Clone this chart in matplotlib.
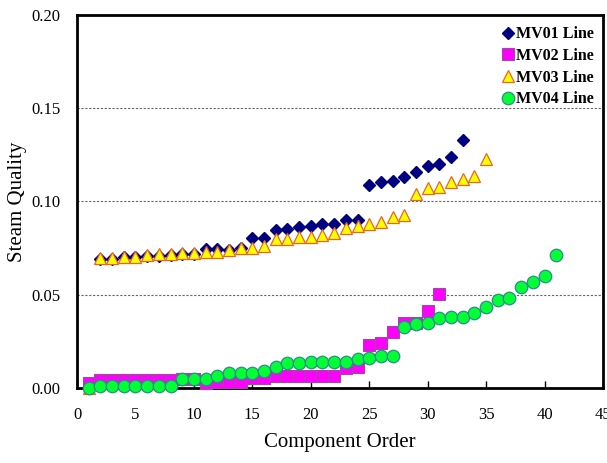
import matplotlib
matplotlib.use("Agg")
import matplotlib.pyplot as plt

plt.rcParams['font.family'] = ['Liberation Serif', 'DejaVu Serif']

x_mv01 = list(range(2, 34))
mv01 = [0.069, 0.069, 0.070, 0.070, 0.0708, 0.071, 0.0715, 0.072, 0.072,
        0.0745, 0.0745, 0.074, 0.075, 0.0806, 0.0806, 0.0845, 0.0853, 0.0865,
        0.0869, 0.0879, 0.0879, 0.090, 0.090, 0.1088, 0.1103, 0.111, 0.113,
        0.116, 0.119, 0.120, 0.124, 0.133]

x_mv02 = list(range(1, 32))
mv02 = [0.0028, 0.0045, 0.0045, 0.0045, 0.0045, 0.0045, 0.0045, 0.0045,
        0.0050, 0.0050, 0.0028, 0.0034, 0.0034, 0.0034, 0.0052, 0.0052,
        0.0064, 0.0064, 0.0064, 0.0064, 0.0064, 0.0064, 0.0105, 0.0114,
        0.023, 0.0243, 0.0302, 0.0347, 0.035, 0.0413, 0.0502]

x_mv03 = [1] + list(range(2, 36))
mv03 = [0.0, 0.0699, 0.0699, 0.0704, 0.0704, 0.0713, 0.0718, 0.0718, 0.0722,
        0.0722, 0.0731, 0.0731, 0.074, 0.0749, 0.0749, 0.076, 0.0800, 0.0800,
        0.0808, 0.0808, 0.082, 0.0829, 0.086, 0.0869, 0.0879, 0.0892, 0.0919,
        0.0928, 0.104, 0.107, 0.1076, 0.1106, 0.1119, 0.1137, 0.1228]

x_mv04 = list(range(1, 42))
mv04 = [0.0002, 0.0013, 0.0013, 0.0013, 0.0013, 0.0013, 0.0013, 0.0013,
        0.0048, 0.0048, 0.0048, 0.0066, 0.0082, 0.0082, 0.0082, 0.0093,
        0.0112, 0.0136, 0.0136, 0.0139, 0.0139, 0.0139, 0.0139, 0.0154,
        0.0159, 0.0172, 0.0172, 0.0329, 0.0341, 0.035, 0.0373, 0.0379,
        0.0379, 0.0404, 0.0433, 0.0472, 0.0481, 0.054, 0.057, 0.060, 0.0713]

labels = ['MV01 Line', 'MV02 Line', 'MV03 Line', 'MV04 Line']
x_ticks = [0, 5, 10, 15, 20, 25, 30, 35, 40, 45]
y_ticks = [0.00, 0.05, 0.10, 0.15, 0.20]

fig = plt.figure(figsize=(6.07, 4.63), dpi=100)
ax = fig.add_axes([0.1269, 0.162, 0.8665, 0.8056])

ax.plot(x_mv01, mv01, linestyle='none', marker='D', ms=6.4,
        mfc='#000080', mec='#000080', label=labels[0], clip_on=False, zorder=3)
ax.plot(x_mv02, mv02, linestyle='none', marker='s', ms=8.4,
        mfc='#FF00FF', mec='#9A4D9A', mew=0.8, label=labels[1], clip_on=False, zorder=4)
ax.plot(x_mv03, mv03, linestyle='none', marker='^', ms=9,
        mfc='#FFFF00', mec='#E8642A', mew=0.9, label=labels[2], clip_on=False, zorder=5)
ax.plot(x_mv04, mv04, linestyle='none', marker='o', ms=9,
        mfc='#00FF33', mec='#2E8B8B', mew=0.9, label=labels[3], clip_on=False, zorder=6)

ax.set_xlim(0, 45)
ax.set_ylim(0, 0.20)
ax.set_xticks(x_ticks)
ax.set_yticks(y_ticks)
ax.set_yticklabels([f'{v:.2f}' for v in y_ticks])
ax.tick_params(axis='x', direction='in', length=5, width=1, labelsize=12, pad=14)
ax.tick_params(axis='y', length=0, labelsize=12, pad=12)
for s in ax.spines.values():
    s.set_linewidth(2)
    s.set_color('black')

for v in [0.05, 0.10, 0.15]:
    ax.axhline(v, color='#666666', linestyle=(0, (2, 1.5)), linewidth=0.8, zorder=1)

ax.set_xlabel('Component Order', fontsize=15, labelpad=7)
ax.set_ylabel('Steam Quality', fontsize=15, labelpad=3)

leg = ax.legend(loc='upper right', frameon=False, handlelength=0.8,
                handletextpad=0.1, borderaxespad=0.2, labelspacing=0.35,
                prop={'weight': 'bold', 'size': 11.5}, bbox_to_anchor=(1.0, 0.995))

fig.savefig('out.png', dpi=100)
